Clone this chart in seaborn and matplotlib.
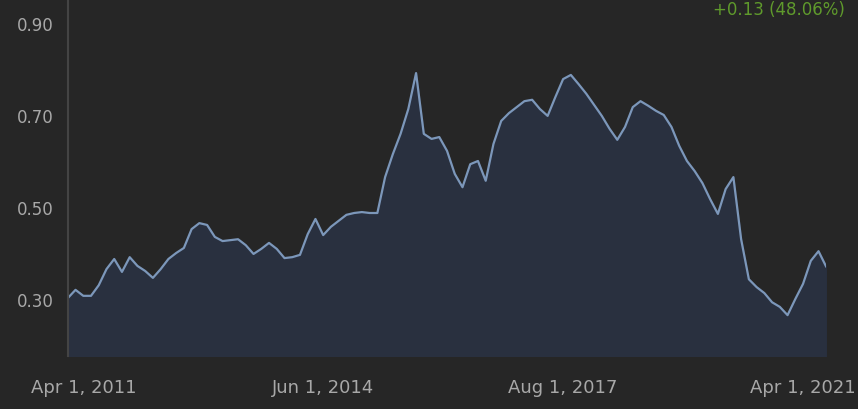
import seaborn as sns, pandas as pd
import matplotlib.pyplot as plt

# values, one per period (evenly spaced)
ratio = [0.302, 0.320, 0.307, 0.307, 0.330, 0.365, 0.387, 0.359, 0.391, 0.372,
         0.361, 0.346, 0.365, 0.387, 0.400, 0.411, 0.452, 0.465, 0.461, 0.435,
         0.426, 0.428, 0.430, 0.417, 0.398, 0.409, 0.422, 0.409, 0.389, 0.391,
         0.396, 0.441, 0.474, 0.439, 0.457, 0.470, 0.483, 0.487, 0.489, 0.487,
         0.487, 0.565, 0.615, 0.659, 0.713, 0.791, 0.659, 0.648, 0.652, 0.622,
         0.572, 0.543, 0.593, 0.600, 0.557, 0.637, 0.687, 0.704, 0.717, 0.730,
         0.733, 0.713, 0.698, 0.739, 0.778, 0.787, 0.767, 0.746, 0.722, 0.698,
         0.670, 0.646, 0.674, 0.717, 0.730, 0.720, 0.709, 0.700, 0.674, 0.633,
         0.600, 0.578, 0.552, 0.517, 0.485, 0.539, 0.565, 0.430, 0.343, 0.326,
         0.313, 0.293, 0.283, 0.265, 0.300, 0.333, 0.383, 0.404, 0.370]
period = list(range(len(ratio)))

tick_pos = [2, 33, 64, 95]
tick_labels = ["Apr 1, 2011", "Jun 1, 2014", "Aug 1, 2017", "Apr 1, 2021"]
y_ticks = [0.30, 0.50, 0.70, 0.90]
change_text = "+0.13 (48.06%)"

df = pd.DataFrame({"period": period, "ratio": ratio})

bg = "#262626"
sns.set_style("dark", {"axes.facecolor": bg, "figure.facecolor": bg})

fig = plt.figure(figsize=(8.58, 4.10), dpi=100)
ax = fig.add_axes([0.079, 0.129, 0.884, 0.871])

ax.fill_between(df["period"], df["ratio"], 0, color="#29303f", zorder=1)
sns.lineplot(data=df, x="period", y="ratio", ax=ax, color="#7c97ba", linewidth=1.6, zorder=2)

ax.set_xlim(0, len(ratio) - 1)
ax.set_ylim(0.176, 0.952)
ax.set_xticks(tick_pos)
ax.set_xticklabels(tick_labels)
ax.set_yticks(y_ticks)
ax.set_yticklabels([f"{v:.2f}" for v in y_ticks])
ax.tick_params(axis="x", length=0, pad=16, labelsize=13, labelcolor="#a8a8a8")
ax.tick_params(axis="y", length=0, pad=10, labelsize=12, labelcolor="#a8a8a8")
ax.set_xlabel("")
ax.set_ylabel("")
ax.grid(False)

for s in ["top", "right", "bottom"]:
    ax.spines[s].set_visible(False)
ax.spines["left"].set_color("#444444")
ax.spines["left"].set_linewidth(1.5)

fig.text(0.985, 0.997, change_text, ha="right", va="top", fontsize=12, color="#5f9a2c")

fig.savefig("out.png", dpi=100, facecolor=bg)
